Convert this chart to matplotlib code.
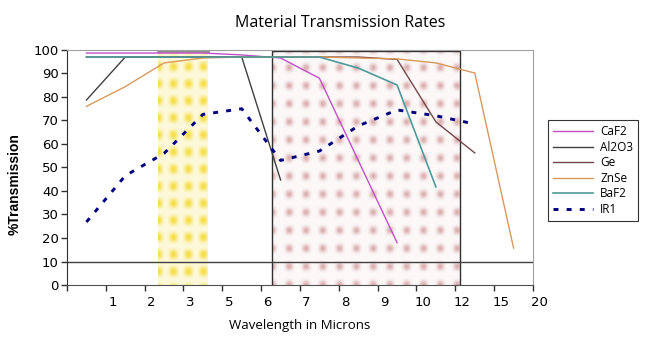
import numpy as np
import matplotlib.pyplot as plt
from matplotlib.transforms import ScaledTranslation

# category labels along the x axis (one label per tick)
tick_labels = ['1', '2', '3', '5', '6', '7', '8', '9', '10', '12', '15', '20']

# %transmission for each material, one value per category
caf2 = [98.7, 98.7, 98.7, 98.7, 97.9, 96.6, 88.0, 53.0, 18.0]
al2o3 = [78.7, 97.0, 97.0, 97.0, 97.0, 44.7]
ge = [97.0, 97.0, 97.0, 97.0, 97.0, 97.0, 97.0, 97.0, 96.0, 69.4, 56.2]
znse = [76.0, 84.4, 94.5, 96.6, 97.0, 97.0, 97.0, 96.6, 96.2, 94.5, 90.2, 15.7]
baf2 = [97.0, 97.0, 97.0, 97.0, 97.0, 97.0, 97.0, 92.3, 85.1, 41.7]
ir1 = [26.8, 46.5, 56.0, 72.6, 75.0, 53.0, 57.0, 67.7, 74.5, 72.0, 68.5]

# shaded bands (in category units)
yellow_band = (2.35, 3.63)
pink_band = (5.28, 10.13)


def pos(vals):
    return np.arange(len(vals)) + 0.5


def texture(w, h, sx, sy, rgb, base, amp, power):
    xx = np.arange(w)
    yy = np.arange(h)
    fx = 0.5 + 0.5 * np.cos(2 * np.pi * xx / sx)
    fy = 0.5 + 0.5 * np.cos(2 * np.pi * yy / sy)
    a = base + amp * np.outer(fy ** power, fx ** power)
    img = np.zeros((h, w, 4))
    img[..., 0] = rgb[0]
    img[..., 1] = rgb[1]
    img[..., 2] = rgb[2]
    img[..., 3] = np.clip(a, 0, 1)
    return img


fig = plt.figure(figsize=(6.68, 3.44), dpi=100)
ax = fig.add_axes([0.1003, 0.1715, 0.6976, 0.6832])

# background bands
ax.imshow(texture(50, 235, 15, 17, (0.96, 0.86, 0.2), 0.18, 0.75, 1.2),
          extent=[yellow_band[0], yellow_band[1], 0, 100], aspect='auto',
          interpolation='bilinear', zorder=0)
ax.imshow(texture(188, 235, 16.7, 18, (0.78, 0.5, 0.5), 0.05, 0.6, 2),
          extent=[pink_band[0], pink_band[1], 0, 100], aspect='auto',
          interpolation='bilinear', zorder=0)
ax.plot([yellow_band[0], yellow_band[1]], [99.6, 99.6], color='#909090', lw=2, zorder=1)
ax.plot([pink_band[0], pink_band[0], pink_band[1], pink_band[1]], [0, 99.5, 99.5, 0],
        color='#303030', lw=1, zorder=1)

ax.axhline(10, color='#404040', lw=1, zorder=1)

ax.plot(pos(caf2), caf2, color='#c050c8', lw=1, label='CaF2', zorder=3)
ax.plot(pos(al2o3), al2o3, color='#404040', lw=1, label='Al2O3', zorder=3)
ax.plot(pos(ge), ge, color='#74484a', lw=1, label='Ge', zorder=3)
ax.plot(pos(znse), znse, color='#d8995a', lw=1, label='ZnSe', zorder=3)
ax.plot(pos(baf2), baf2, color='#4f9a9a', lw=1.2, label='BaF2', zorder=3)
ax.plot(pos(ir1), ir1, color='#000080', lw=2.1, linestyle=(0, (1.7, 2.8)),
        label='IR1', zorder=4)

ax.set_yticks(np.arange(0, 101, 10))
ax.set_xticks(np.arange(0, 13), labels=[''] + tick_labels)
ax.set_xlim(0, 12)
ax.set_ylim(0, 100)

for s in ['top', 'right']:
    ax.spines[s].set_color('#a0a0a0')
ax.spines['left'].set_color('#303030')
ax.spines['bottom'].set_color('#505050')
ax.tick_params(direction='out', length=4, width=1, colors='#303030',
               labelsize=9.5, labelcolor='black')
ax.tick_params(axis='y', pad=2)
ax.tick_params(axis='x', pad=4)

# labels sit a little to the right of their tick marks
for t in ax.xaxis.get_major_ticks():
    t.label1.set_transform(t.label1.get_transform()
                           + ScaledTranslation(0.065, 0, fig.dpi_scale_trans))

fig.text(0.51, 0.932, 'Material Transmission Rates', ha='center', va='center',
         fontsize=11.5, family='Open Sans')
ax.set_xlabel('Wavelength in Microns', fontsize=9.5, family='Open Sans', labelpad=7)
fig.text(0.022, 0.465, '%Transmission', rotation=90, ha='center', va='center',
         fontsize=10, fontweight='bold', family='Liberation Sans')

leg = fig.legend(loc='upper left', bbox_to_anchor=(0.811, 0.669),
                 frameon=True, fancybox=False, edgecolor='black', handlelength=3.4,
                 borderpad=0.45, labelspacing=0.22, handletextpad=0.6,
                 prop={'family': 'Open Sans', 'size': 8.5})
leg.get_frame().set_linewidth(0.8)

fig.savefig('out.png', dpi=100)
